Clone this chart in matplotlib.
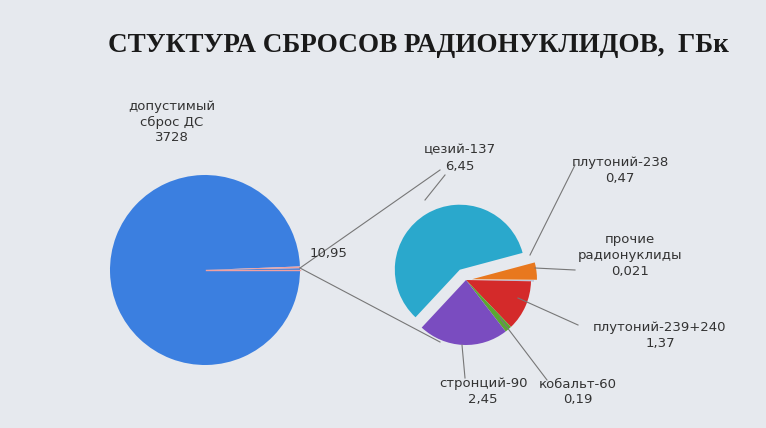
import matplotlib.pyplot as plt

# data
big_labels = ['допустимый\nсброс ДС\n3728', '10,95']
big_values = [3728, 10.95]
small_names = ['плутоний-238\n0,47', 'прочие\nрадионуклиды\n0,021', 'плутоний-239+240\n1,37',
               'кобальт-60\n0,19', 'стронций-90\n2,45', 'цезий-137\n6,45']
small_values = [0.47, 0.021, 1.37, 0.19, 2.45, 6.45]
small_colors = ['#e8781e', '#9aa8c8', '#d42a2a', '#5aa832', '#7a4cc0', '#2aa8cc']

H = 428
fig = plt.figure(figsize=(7.66, 4.28), dpi=100)
fig.patch.set_facecolor('#e6e9ee')
ax = fig.add_axes([0, 0, 1, 1])

# big pie
ax.pie(big_values, colors=['#3b7fe0', '#f0a0a0'], startangle=1.1, counterclock=False,
       center=(205, H - 270), radius=95, wedgeprops=dict(linewidth=0), frame=True)

# small pie (explode is in data units here)
ax.pie(small_values, colors=small_colors, startangle=15, counterclock=False,
       explode=[6, 3, 0, 0, 0, 12],
       center=(466, H - 280), radius=65, wedgeprops=dict(linewidth=0), frame=True)

ax.set_xlim(0, 766)
ax.set_ylim(0, H)
ax.set_aspect('equal')
ax.axis('off')

ax.text(418, H - 45, 'СТУКТУРА СБРОСОВ РАДИОНУКЛИДОВ,  ГБк', ha='center', va='center',
        fontsize=19.5, fontweight='bold', family='Liberation Serif', color='#1a1a1a')
ax.text(172, H - 122, big_labels[0], ha='center', va='center', fontsize=9.5, color='#333')
ax.text(310, H - 253, big_labels[1], ha='left', va='center', fontsize=9.5, color='#333')

# connecting lines
lc = '#777'
ax.plot([300, 440], [H - 268, H - 170], color=lc, lw=0.8)
ax.plot([300, 440], [H - 268, H - 342], color=lc, lw=0.8)
ax.plot([300, 206], [H - 270, H - 270], color='#f0a0a0', lw=1)

labels_pos = [(620, 170, 'center'), (630, 255, 'center'), (660, 336, 'center'),
              (578, 392, 'center'), (483, 392, 'center'), (460, 158, 'center')]
leaders = [((530, 255), (575, 165)), ((535, 268), (575, 270)), ((518, 298), (578, 325)),
           ((500, 318), (547, 380)), ((462, 345), (465, 378)), ((425, 200), (445, 175))]
for name, (x, y, ha), ((x0, y0), (x1, y1)) in zip(small_names, labels_pos, leaders):
    ax.text(x, H - y, name, ha=ha, va='center', fontsize=9.5, color='#333', linespacing=1.3)
    ax.plot([x0, x1], [H - y0, H - y1], color=lc, lw=0.8)

fig.savefig('out.png', dpi=100, facecolor=fig.get_facecolor())
